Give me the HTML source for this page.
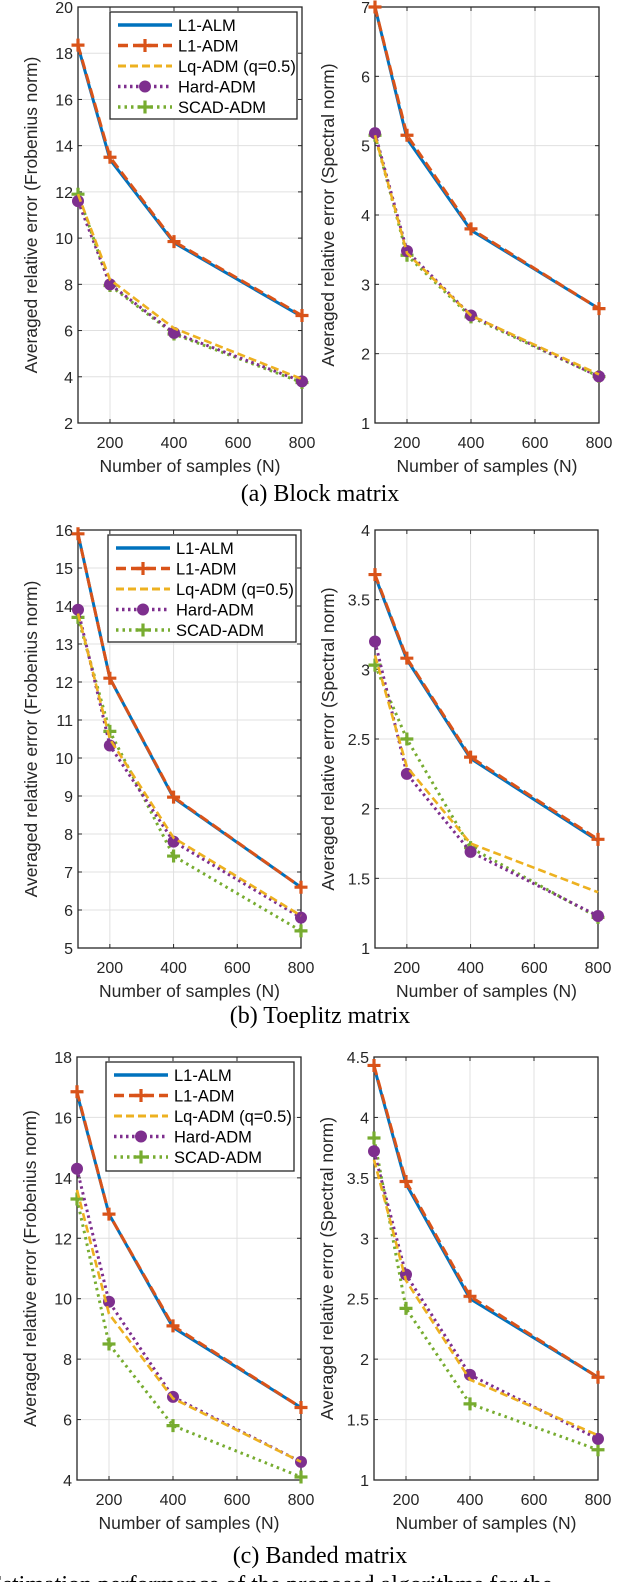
<!DOCTYPE html>
<html><head><meta charset="utf-8">
<style>
html,body{margin:0;padding:0;background:#fff;}
svg{display:block;}
text{font-family:"Liberation Sans",sans-serif;}
.cap{font-family:"Liberation Serif",serif;font-size:24px;fill:#000;}
</style></head>
<body>
<svg id="fig" width="640" height="1582" viewBox="0 0 640 1582" xmlns="http://www.w3.org/2000/svg">
<text class="cap" x="320" y="501" text-anchor="middle">(a) Block matrix</text>
<text class="cap" x="320" y="1023" text-anchor="middle">(b) Toeplitz matrix</text>
<text class="cap" x="320" y="1563" text-anchor="middle">(c) Banded matrix</text>
<text class="cap" x="-12" y="1592">Estimation performance of the proposed algorithms for the</text>
</svg>
<script>
const xCats = [100, 200, 400, 800];
const xTicks = [200, 400, 600, 800];
const seriesNames = ["L1-ALM", "L1-ADM", "Lq-ADM (q=0.5)", "Hard-ADM", "SCAD-ADM"];

const aFrobALM = [18.3, 13.4, 9.8, 6.6];
const aFrobADM = [18.35, 13.5, 9.85, 6.65];
const aFrobLq = [11.9, 8.2, 6.1, 3.9];
const aFrobHard = [11.6, 8.0, 5.9, 3.8];
const aFrobSCAD = [11.9, 7.95, 5.85, 3.75];
const aFrobTicks = [2, 4, 6, 8, 10, 12, 14, 16, 18, 20];

const aSpecALM = [7.0, 5.1, 3.78, 2.65];
const aSpecADM = [7.0, 5.15, 3.8, 2.65];
const aSpecLq = [5.15, 3.45, 2.55, 1.7];
const aSpecHard = [5.18, 3.48, 2.55, 1.67];
const aSpecSCAD = [5.15, 3.42, 2.53, 1.67];
const aSpecTicks = [1, 2, 3, 4, 5, 6, 7];

const bFrobALM = [15.9, 12.1, 8.95, 6.6];
const bFrobADM = [15.9, 12.1, 8.97, 6.6];
const bFrobLq = [13.8, 10.5, 7.9, 5.85];
const bFrobHard = [13.9, 10.33, 7.8, 5.8];
const bFrobSCAD = [13.7, 10.7, 7.42, 5.45];
const bFrobTicks = [5, 6, 7, 8, 9, 10, 11, 12, 13, 14, 15, 16];

const bSpecALM = [3.67, 3.07, 2.36, 1.77];
const bSpecADM = [3.68, 3.08, 2.37, 1.78];
const bSpecLq = [3.1, 2.3, 1.75, 1.4];
const bSpecHard = [3.2, 2.25, 1.69, 1.23];
const bSpecSCAD = [3.03, 2.5, 1.72, 1.22];
const bSpecTicks = [1, 1.5, 2, 2.5, 3, 3.5, 4];

const cFrobALM = [16.8, 12.8, 9.05, 6.4];
const cFrobADM = [16.85, 12.8, 9.1, 6.4];
const cFrobLq = [13.6, 9.5, 6.7, 4.6];
const cFrobHard = [14.3, 9.9, 6.75, 4.6];
const cFrobSCAD = [13.3, 8.5, 5.8, 4.1];
const cFrobTicks = [4, 6, 8, 10, 12, 14, 16, 18];

const cSpecALM = [4.42, 3.45, 2.5, 1.85];
const cSpecADM = [4.43, 3.47, 2.52, 1.85];
const cSpecLq = [3.65, 2.65, 1.83, 1.37];
const cSpecHard = [3.72, 2.7, 1.87, 1.34];
const cSpecSCAD = [3.83, 2.42, 1.63, 1.25];
const cSpecTicks = [1, 1.5, 2, 2.5, 3, 3.5, 4, 4.5];

const NS = "http://www.w3.org/2000/svg";
const svg = document.getElementById("fig");
const colors = ["#0072BD", "#D95319", "#EDB120", "#7E2F8E", "#77AC30"];
const dashes = ["", "10,5", "8,4", "2.5,3.5", "2.5,4"];
const widths = [3, 3, 2.6, 3, 3];

function mk(tag, attrs, parent) {
  const e = document.createElementNS(NS, tag);
  for (const k in attrs) e.setAttribute(k, attrs[k]);
  (parent || svg).appendChild(e);
  return e;
}
function plus(g, x, y, c) {
  const p = mk("path", {d: `M${x-6.5},${y}H${x+6.5}M${x},${y-6.5}V${y+6.5}`, stroke: c, "stroke-width": 3.2, fill: "none"}, g);
  
  
}
function dot(g, x, y, c) {
  const p = mk("circle", {cx: x, cy: y, r: 6, fill: c}, g);
  
  
}

function chart(name, x0, x1, y0, y1, yMin, yMax, yTicks, series, ylab, legend) {
  const g = mk("g", {});
  
  
  const sx = v => x0 + (v - 100) / 700 * (x1 - x0);
  const sy = v => y1 - (v - yMin) / (yMax - yMin) * (y1 - y0);
  mk("rect", {x: x0, y: y0, width: x1 - x0, height: y1 - y0, fill: "#fff"}, g);
  xTicks.forEach(t => {
    const l = mk("line", {x1: sx(t), x2: sx(t), y1: y0, y2: y1, stroke: "#e0e0e0", "stroke-width": 1}, g);
    
    
    mk("line", {x1: sx(t), x2: sx(t), y1: y1, y2: y1 - 4, stroke: "#262626"}, g);
    mk("line", {x1: sx(t), x2: sx(t), y1: y0, y2: y0 + 4, stroke: "#262626"}, g);
    const tx = mk("text", {x: sx(t), y: y1 + 25, "text-anchor": "middle", "font-size": 16, fill: "#262626"}, g);
    tx.textContent = t;
    
    
  });
  yTicks.forEach(t => {
    const y = sy(t);
    const l = mk("line", {x1: x0, x2: x1, y1: y, y2: y, stroke: "#e0e0e0", "stroke-width": 1}, g);
    
    
    mk("line", {x1: x0, x2: x0 + 4, y1: y, y2: y, stroke: "#262626"}, g);
    mk("line", {x1: x1, x2: x1 - 4, y1: y, y2: y, stroke: "#262626"}, g);
    const tx = mk("text", {x: x0 - 5, y: y + 6, "text-anchor": "end", "font-size": 16, fill: "#262626"}, g);
    tx.textContent = t;
    
    
  });
  const fr = mk("rect", {x: x0, y: y0, width: x1 - x0, height: y1 - y0, fill: "none", stroke: "#262626", "stroke-width": 1.3}, g);
  
  
  const xl = mk("text", {x: (x0 + x1) / 2, y: y1 + 49, "text-anchor": "middle", "font-size": 17.5, fill: "#262626"}, g);
  xl.textContent = "Number of samples (N)";
  
  
  const yx = x0 - 41, yy = (y0 + y1) / 2;
  const yl = mk("text", {x: yx, y: yy, "text-anchor": "middle", "font-size": 17.5, fill: "#262626", transform: `rotate(-90 ${yx} ${yy})`}, g);
  yl.textContent = ylab;
  
  
  const order = [4, 3, 2, 0, 1];
  order.forEach(i => {
    const vals = series[i];
    const pts = vals.map((v, j) => sx(xCats[j]) + "," + sy(v)).join(" ");
    const pl = mk("polyline", {points: pts, fill: "none", stroke: colors[i], "stroke-width": widths[i], "stroke-dasharray": dashes[i]}, g);
    
    
    vals.forEach((v, j) => {
      if (i === 1 || i === 4) plus(g, sx(xCats[j]), sy(v), colors[i]);
      if (i === 3) dot(g, sx(xCats[j]), sy(v), colors[i]);
    });
  });
  if (legend) {
    const [lx, ly, lw, lh] = legend;
    const lg = mk("g", {}, g);
    
    
    mk("rect", {x: lx, y: ly, width: lw, height: lh, fill: "#fff", stroke: "#262626", "stroke-width": 1.3}, lg);
    seriesNames.forEach((n, i) => {
      const y = ly + 13 + i * 20.5;
      const e = mk("g", {}, lg);
      
      
      mk("line", {x1: lx + 8, x2: lx + 62, y1: y, y2: y, stroke: colors[i], "stroke-width": widths[i] + 0.5, "stroke-dasharray": dashes[i]}, e);
      if (i === 1 || i === 4) plus(e, lx + 35, y, colors[i]);
      if (i === 3) dot(e, lx + 35, y, colors[i]);
      const t = mk("text", {x: lx + 68, y: y + 6, "font-size": 16.5, fill: "#000"}, e);
      t.textContent = n;
    });
  }
}

chart("chart-a-frobenius", 78, 302, 7, 423, 2, 20, aFrobTicks,
  [aFrobALM, aFrobADM, aFrobLq, aFrobHard, aFrobSCAD], "Averaged relative error (Frobenius norm)", [110, 12, 187, 107]);
chart("chart-a-spectral", 375, 599, 7, 423, 1, 7, aSpecTicks,
  [aSpecALM, aSpecADM, aSpecLq, aSpecHard, aSpecSCAD], "Averaged relative error (Spectral norm)", null);
chart("chart-b-frobenius", 78, 301, 530, 948, 5, 16, bFrobTicks,
  [bFrobALM, bFrobADM, bFrobLq, bFrobHard, bFrobSCAD], "Averaged relative error (Frobenius norm)", [108, 535, 188, 107]);
chart("chart-b-spectral", 375, 598, 530, 948, 1, 4, bSpecTicks,
  [bSpecALM, bSpecADM, bSpecLq, bSpecHard, bSpecSCAD], "Averaged relative error (Spectral norm)", null);
chart("chart-c-frobenius", 77, 301, 1057, 1480, 4, 18, cFrobTicks,
  [cFrobALM, cFrobADM, cFrobLq, cFrobHard, cFrobSCAD], "Averaged relative error (Frobenius norm)", [106, 1062, 188, 109]);
chart("chart-c-spectral", 374, 598, 1057, 1480, 1, 4.5, cSpecTicks,
  [cSpecALM, cSpecADM, cSpecLq, cSpecHard, cSpecSCAD], "Averaged relative error (Spectral norm)", null);
</script>
</body></html>
